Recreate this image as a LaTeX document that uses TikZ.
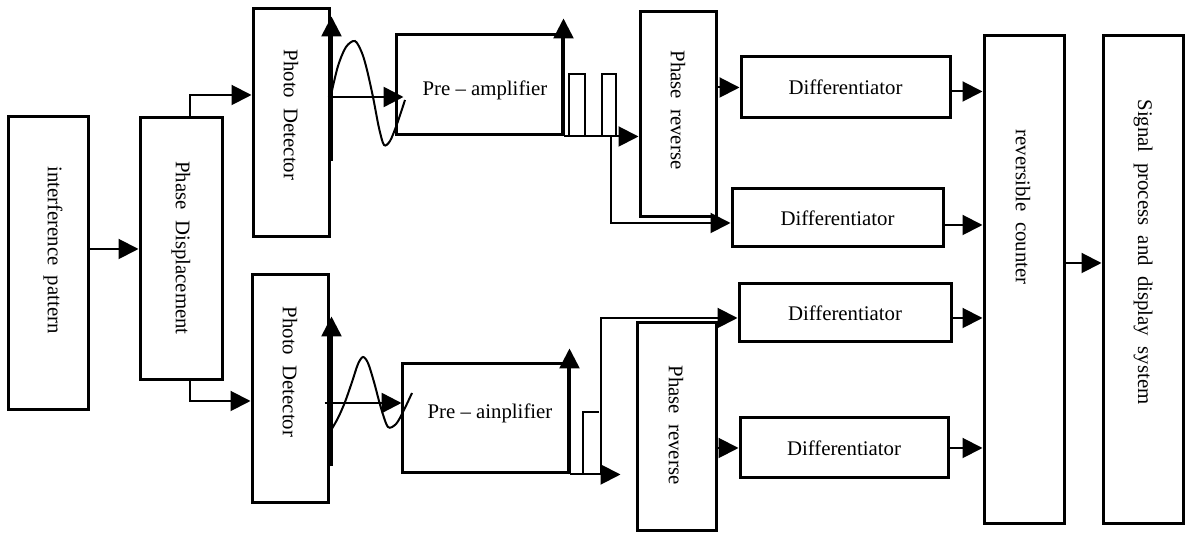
\documentclass[tikz,border=0pt]{standalone}
\usepackage{fontspec}
\setmainfont{Liberation Serif}
\usetikzlibrary{arrows.meta,fit,calc}
\begin{document}
\begin{tikzpicture}[x=0.5pt,y=-0.5pt,
  blk/.style={draw, line width=1.5pt, inner sep=0pt},
  arr/.style={line width=1pt, -{Triangle[length=10pt,width=10pt]}},
  axis/.style={line width=1.3pt, -{Triangle[length=10pt,width=10pt]}},
  wave/.style={line width=1pt},
  pulse/.style={line width=1pt},
  lbl/.style={font=\fontsize{10.4}{12.5}\selectfont, inner sep=0pt},
  vlbl/.style={lbl, rotate=-90}]
\useasboundingbox (0,0) rectangle (1191,533);

% boxes
\node[blk, fit={(8,117)(88,410)}] (ip) {};
\node[blk, fit={(140,118)(222,380)}] (pd) {};
\node[blk, fit={(253,9)(329,237)}] (pdt1) {};
\node[blk, fit={(252,275)(328,503)}] (pdt2) {};
\node[blk, fit={(396,35)(562,135)}] (pa1) {};
\node[blk, fit={(402,364)(568,473)}] (pa2) {};
\node[blk, fit={(640,12)(716,217)}] (pr1) {};
\node[blk, fit={(637,323)(716,531)}] (pr2) {};
\node[blk, fit={(741,57)(950,118)}] (d1) {};
\node[blk, fit={(732,189)(943,247)}] (d2) {};
\node[blk, fit={(739,284)(951,342)}] (d3) {};
\node[blk, fit={(740,418)(948,478)}] (d4) {};
\node[blk, fit={(984,36)(1064,524)}] (rc) {};
\node[blk, fit={(1103,36)(1183,524)}] (sp) {};

% labels
\node[vlbl] (tip) at (53,250) {interference\ \ pattern};
\node[vlbl] (tpd) at (181,248) {Phase\ \ Displacement};
\node[vlbl] (tpdt1) at (291,115) {Photo\ \ Detector};
\node[vlbl] (tpdt2) at (290,372) {Photo\ \ Detector};
\node[lbl] (tpa1) at (485,90) {Pre -- amplifier};
\node[lbl] (tpa2) at (490,413) {Pre -- ainplifier};
\node[vlbl] (tpr1) at (678,110) {Phase\ \ reverse};
\node[vlbl] (tpr2) at (676,425) {Phase\ \ reverse};
\node[lbl] (td1) at (d1.center) {Differentiator};
\node[lbl] (td2) at (d2.center) {Differentiator};
\node[lbl] (td3) at (d3.center) {Differentiator};
\node[lbl] (td4) at (d4.center) {Differentiator};
\node[vlbl] (trc) at (1023,207) {reversible\ \ counter};
\node[vlbl] (tsp) at (1143,252) {Signal\ \ process\ \ and\ \ display\ \ system};

% left connectors
\draw[arr] (ip.east |- pd.west) -- (pd.west);
\draw[arr] ($(pd.north)+(9,0)$) |- ($(pdt1.west)+(0,-28)$);
\draw[arr] ($(pd.south)+(9,0)$) |- ($(pdt2.west)+(0,12)$);

% top waveform
\draw[axis] ($(pdt1.south east)+(1,-77)$) -- ($(pdt1.north east)+(1,9)$);
\draw[axis] ($(pdt1.east)+(-3,-26)$) -- ($(pa1.west)+(9,12)$);
\draw[wave] plot[smooth] coordinates {(331,95) (338,66) (346,47) (355,41) (362,53) (367,70) (373,97) (379,128) (384,145) (390,141) (397,124) (405,100)};

% bottom waveform
\draw[axis] ($(pdt2.south east)+(2,-38)$) -- ($(pdt2.north east)+(2,43)$);
\draw[axis] ($(pdt2.east)+(-5,14)$) -- ($(pa2.west)+(1,-15.5)$);
\draw[wave] plot[smooth] coordinates {(330,432) (338,418) (345,402) (352,382) (358,364) (363,357) (368,363) (374,382) (381,408) (388,427) (396,424) (403,412) (412,393)};

% top pre-amplifier outputs
\draw[axis] (pa1.south east) -- ($(pa1.north east)+(0,-15)$);
\draw[pulse] (569,135) -- (569,74) -- (585,74) -- (585,135);
\draw[pulse] (602,135) -- (602,74) -- (616,74) -- (616,135);
\draw[arr] (pa1.south east) -- (pr1.west |- pa1.south east);
\draw[arr] ($(pa1.south east)+(47,0)$) |- ($(d2.west)+(0,5)$);

% bottom pre-amplifier outputs
\draw[axis] (pa2.south east) -- ($(pa2.north east)+(0,-14)$);
\draw[pulse] (583,473) -- (583,412) -- (599,412);
\draw[arr] (pa2.south east) -- ($(pr2.west |- pa2.south east)+(-15,0)$);
\draw[arr] ($(pa2.south east)+(31,0)$) |- ($(d3.west)+(0,5)$);

% phase reverse to differentiators
\draw[arr] (pr1.east |- d1.west) -- (d1.west);
\draw[arr] (pr2.east |- d4.west) -- (d4.west);

% differentiators to counter
\draw[arr] ($(d1.east)+(0,4)$) -- ($(rc.west |- d1.east)+(0,4)$);
\draw[arr] ($(d2.east)+(0,7)$) -- ($(rc.west |- d2.east)+(0,7)$);
\draw[arr] ($(d3.east)+(0,5)$) -- ($(rc.west |- d3.east)+(0,5)$);
\draw[arr] (d4.east) -- (rc.west |- d4.east);

% counter to signal
\draw[arr] ($(rc.east)+(0,-17)$) -- ($(sp.west)+(0,-17)$);
\end{tikzpicture}
\end{document}
